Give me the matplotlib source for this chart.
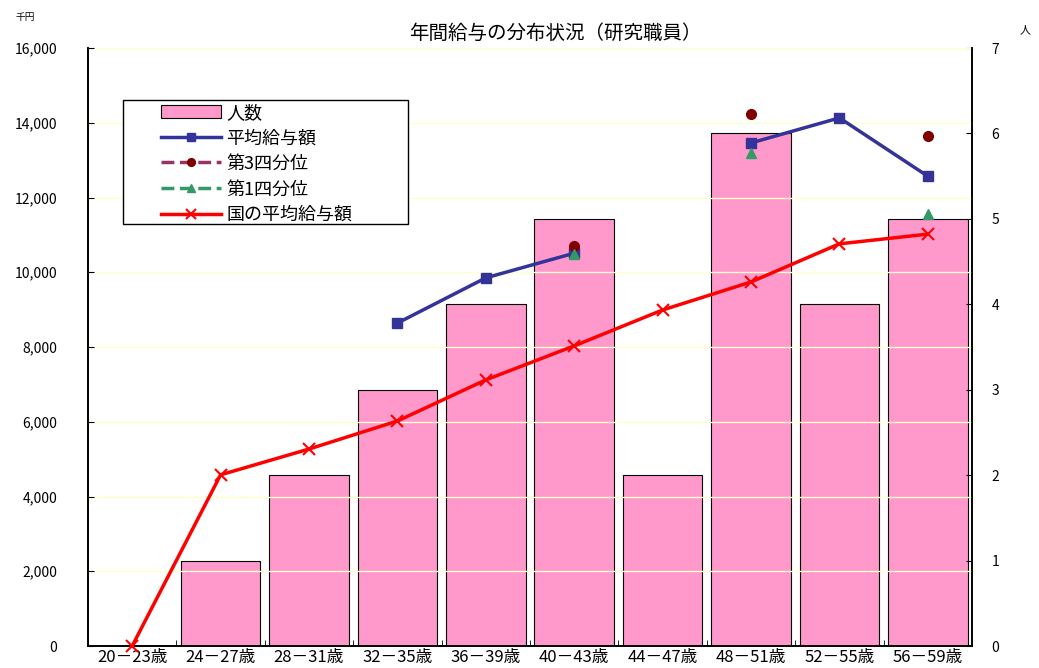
import numpy as np
import matplotlib.pyplot as plt
from matplotlib.ticker import FuncFormatter
from matplotlib.patches import Rectangle

plt.rcParams['font.family'] = ['Noto Sans CJK JP', 'DejaVu Sans']

ages = ['20－23歳', '24－27歳', '28－31歳', '32－35歳', '36－39歳',
        '40－43歳', '44－47歳', '48－51歳', '52－55歳', '56－59歳']
count = [0, 1, 2, 3, 4, 5, 2, 6, 4, 5]
avg_pay = [np.nan, np.nan, np.nan, 8640, 9850, 10510, np.nan, 13460, 14130, 12570]
q3 = [np.nan, np.nan, np.nan, np.nan, np.nan, 10700, np.nan, 14230, np.nan, 13650]
q1 = [np.nan, np.nan, np.nan, np.nan, np.nan, 10490, np.nan, 13190, np.nan, 11560]
nat_avg = [0, 4580, 5270, 6020, 7120, 8030, 8990, 9740, 10760, 11020]

x = np.arange(len(ages))

fig = plt.figure(figsize=(10.39, 6.68), dpi=100)
ax = fig.add_axes([88/1039, 22/668, 884/1039, 598/668])
ax2 = ax.twinx()

# bars on right axis (people), drawn behind the lines
ax2.bar(x, count, width=0.9, color='#ff99cc', edgecolor='black', linewidth=0.8,
        label='人数', zorder=1)
ax2.set_ylim(0, 7)
ax2.set_yticks(range(8))
ax2.tick_params(axis='y', direction='in', length=4, labelsize=10, pad=14)

ax.set_zorder(ax2.get_zorder() + 1)
ax.patch.set_visible(False)

ax.plot(x, avg_pay, color='#333399', lw=2.5, marker='s', ms=7, label='平均給与額', zorder=3)
ax.plot(x, q3, color='#993366', ls='--', lw=2.5, marker='o', ms=7, mfc='#800000',
        mec='#800000', label='第3四分位', zorder=3)
ax.plot(x, q1, color='#339966', ls='--', lw=2.5, marker='^', ms=7, mfc='#339966',
        mec='#339966', label='第1四分位', zorder=3)
ax.plot(x, nat_avg, color='#ff0000', lw=2.5, marker='x', ms=9, mew=1.5,
        label='国の平均給与額', zorder=3, clip_on=False)

ax.set_xlim(-0.5, len(ages) - 0.5)
ax.set_ylim(0, 16000)
ax.set_yticks(range(0, 16001, 2000))
ax.yaxis.set_major_formatter(FuncFormatter(lambda v, p: f'{int(v):,}'))
ax.tick_params(axis='y', direction='in', length=4, labelsize=10, pad=22)
for yv in range(2000, 16001, 2000):
    ax.axhline(yv, color='#ffffcc', lw=1, zorder=0)

ax.set_xticks(x)
ax.set_xticklabels(ages, fontsize=12)
ax.set_xticks(np.arange(-0.5, len(ages)), minor=True)
ax.tick_params(axis='x', which='major', length=0, pad=2)
ax.tick_params(axis='x', which='minor', direction='in', length=4)

for a in (ax, ax2):
    a.spines['top'].set_visible(False)
    for s in ('left', 'right', 'bottom'):
        a.spines[s].set_linewidth(1.2)

h1, l1 = ax2.get_legend_handles_labels()
h2, l2 = ax.get_legend_handles_labels()
leg = ax.legend(h1 + h2, l1 + l2, loc='upper left', bbox_to_anchor=(0.083, 0.907),
                fontsize=13, frameon=False, handlelength=3.3, handletextpad=0.3,
                borderpad=0, labelspacing=0.42, borderaxespad=0, markerscale=0.8)
leg.set_zorder(6)
# legend box is wider than the entries, so draw it by hand
ax.add_patch(Rectangle((123/1039, 1 - 224/668), 285/1039, 124/668,
                       transform=fig.transFigure, facecolor='white',
                       edgecolor='black', lw=1.0, zorder=5, clip_on=False))

fig.text(555/1039, 1 - 33/668, '年間給与の分布状況（研究職員）', ha='center', va='center', fontsize=14)
fig.text(15/1039, 1 - 17/668, '千円', ha='left', va='center', fontsize=7)
fig.text(1020/1039, 1 - 30/668, '人', ha='left', va='center', fontsize=8)

fig.savefig('out.png', dpi=100)
